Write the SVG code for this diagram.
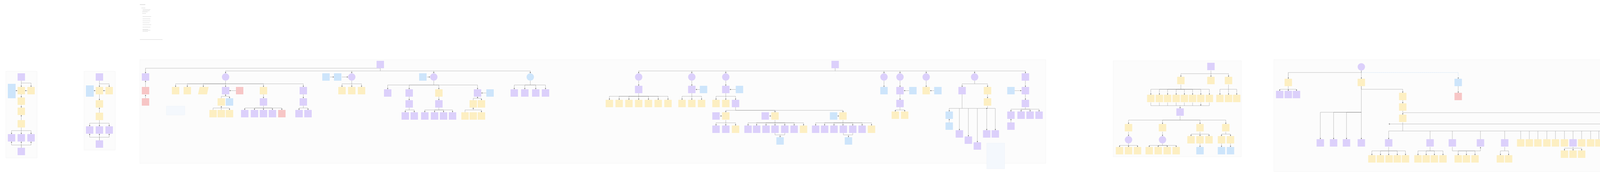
<svg xmlns="http://www.w3.org/2000/svg" width="5000" height="454" viewBox="0 0 5000 454">
<style>
rect.n{width:19px;height:19px}
.p{fill:#dcd0fb}.y{fill:#fdefc2}.b{fill:#cde5fb}.r{fill:#f7c6c6}
.f{fill:#fcfcfc;stroke:#eeeeee;stroke-width:.6}
.g{fill:#effbe9;stroke:#e3f3dc;stroke-width:.6}
.c path{fill:none;stroke:#8f8f8f;stroke-width:.6;marker-end:url(#a)}
.c path.t{stroke-width:1.2;stroke:#bdbdbd}
.c path.d{stroke-dasharray:1.5 1;stroke:#9cc7ee}
.bar{fill:#d6d6d6}
.nt{fill:#f4f8fd;stroke:#e8eef6;stroke-width:.5}
</style>
<defs>
<marker id="a" viewBox="0 0 6 6" refX="6" refY="3" markerWidth="3" markerHeight="3" markerUnits="userSpaceOnUse" orient="auto"><path d="M0,0L6,3L0,6z" fill="#666"/></marker>
</defs>
<rect width="5000" height="454" fill="#ffffff"/>
<g id="notes">
<rect class="bar" x="358" y="11" width="14" height="1.5"/>
<rect class="bar" x="362" y="20" width="10" height="1"/>
<rect class="bar" x="365" y="24" width="20" height="1"/><rect class="bar" x="365" y="27" width="18" height="1"/>
<rect class="bar" x="364" y="30" width="14" height="1" fill="#a8cdf0"/><rect class="bar" x="364" y="34" width="10" height="1" fill="#a8cdf0"/>
<rect class="bar" x="365" y="42" width="22" height="1"/><rect class="bar" x="365" y="48" width="20" height="1"/>
<rect class="bar" x="365" y="53" width="20" height="1"/><rect class="bar" x="365" y="58" width="18" height="1"/>
<rect class="bar" x="365" y="63" width="22" height="1"/><rect class="bar" x="365" y="69" width="20" height="1"/>
<rect class="bar" x="365" y="75" width="14" height="1"/><rect class="bar" x="365" y="77" width="20" height="1"/>
<rect class="bar" x="365" y="80" width="14" height="1"/>
<rect class="bar" x="358" y="101" width="58" height="1"/>
</g>
<g id="frames">
<rect class="f" x="15" y="183" width="80" height="222"/>
<rect class="f" x="215" y="183" width="80" height="202"/>
<rect class="f" x="358" y="153" width="2319" height="266"/>
<rect class="f" x="2850" y="156" width="328" height="246"/>
<rect class="f" x="3261" y="153" width="1340" height="287"/>
<rect class="g" x="4652" y="183" width="57" height="94"/>
<rect class="g" x="4758" y="183" width="86" height="60"/>
<rect class="g" x="4876" y="183" width="31" height="60"/>
<rect x="4955" y="183" width="28" height="60" fill="#fffbee" stroke="#f7eed3" stroke-width=".6"/>
<rect class="nt" x="426" y="272" width="47" height="23"/>
<rect class="nt" x="2526" y="367" width="46" height="66" fill="#fafafa"/>
</g>
<g id="connectors" class="c">
<!-- frame1 -->
<path d="M54.5 207V223"/><path d="M54.5 213H79.5V223"/><path d="M70 232.5H64"/><path d="M45 232.5H40"/>
<path d="M54.5 242V250"/><path d="M54.5 269V276"/><path d="M54.5 308V295"/>
<path d="M54.5 327V335H29.5V344"/><path d="M54.5 335V344"/><path d="M54.5 335H79.5V344"/>
<path d="M54.5 379V372H29.5V363"/><path d="M54.5 379V363"/><path d="M54.5 372H79.5V363"/>
<!-- frame2 -->
<path d="M254.5 207V223"/><path d="M254.5 215H279.5V223"/><path d="M270 232.5H264"/><path d="M245 232.5H240"/>
<path d="M254.5 242V257"/><path d="M254.5 289V276"/>
<path d="M254.5 308V316H229.5V324"/><path d="M254.5 316V324"/><path d="M254.5 316H279.5V324"/>
<path d="M254.5 360V352H229.5V343"/><path d="M254.5 360V343"/><path d="M254.5 352H279.5V343"/>
<!-- main frame left -->
<path class="t" d="M973.5 175H372.5V188"/><path d="M372.5 223V207"/><path d="M372.5 252V243"/>
<path class="t" d="M973.5 175V182H577.5V188"/><path class="t" d="M973.5 182H1357.5V188"/><path d="M900.5 182V188"/><path d="M1110.5 182V188"/>
<path d="M577.5 207V215H449.5V223"/><path d="M577.5 215H479.5V223"/><path d="M577.5 215H520.5V223"/><path d="M577.5 215V223"/><path d="M577.5 215H674.5V223"/><path d="M577.5 215H776.5V223"/>
<path d="M604 232.5H587"/>
<path d="M566.5 252V247H587.5V252"/><path d="M577.5 247V242"/>
<path d="M545.5 282V277H587.5V282"/><path d="M566.5 282V272"/>
<path d="M674.5 242V252"/>
<path d="M674.5 271V277H626.5V282"/><path d="M674.5 277H651.5V282"/><path d="M674.5 277V282"/><path d="M674.5 277H697.5V282"/><path d="M674.5 277H721.5V282"/>
<path d="M776.5 242V252"/><path d="M776.5 271V277H765.5V282"/><path d="M776.5 277H788.5V282"/>
<path d="M845 197.5H855"/><path d="M875 197.5H891"/>
<path d="M900.5 207V215H875.5V223"/><path d="M900.5 215V223"/><path d="M900.5 215H925.5V223"/>
<path d="M1093 197.5H1101"/>
<path d="M1110.5 207V218H992.5V229"/><path d="M1110.5 218H1047.5V229"/><path d="M1110.5 218H1123.5V229"/><path d="M1110.5 218H1222.5V229"/>
<path d="M1245 238.5H1232"/>
<path d="M1047.5 248V257"/><path d="M1047.5 276V282H1037.5V288"/><path d="M1047.5 282H1060.5V288"/>
<path d="M1123.5 248V257"/><path d="M1123.5 276V282H1087.5V288"/><path d="M1123.5 282H1112.5V288"/><path d="M1123.5 282H1135.5V288"/><path d="M1123.5 282H1158.5V288"/>
<path d="M1211.5 257V252H1232.5V257"/><path d="M1222.5 252V248"/>
<path d="M1190.5 288V282H1232.5V288"/><path d="M1211.5 282V276"/>
<path d="M1357.5 207V218H1316.5V229"/><path d="M1357.5 218H1343.5V229"/><path d="M1357.5 218H1371.5V229"/><path d="M1357.5 218H1396.5V229"/>
<!-- root 2 -->
<path class="t" d="M2138 175V182H1635V188"/><path class="t" d="M2138 182H2625V188"/>
<path d="M1771 182V188"/><path d="M1858 182V188"/><path d="M2263 182V188"/><path d="M2304 182V188"/><path d="M2371 182V188"/><path d="M2495 182V188"/>
<path d="M1635 207V220"/><path d="M1771 207V220"/><path d="M1858 207V220"/>
<path d="M1801 229.5H1781"/><path d="M1893 229.5H1868"/>
<path d="M1635 239V247H1560V256"/><path d="M1635 247H1585V256"/><path d="M1635 247H1610V256"/><path d="M1635 247V256"/><path d="M1635 247H1660V256"/><path d="M1635 247H1685V256"/><path d="M1635 247H1710V256"/>
<path d="M1771 239V247H1746V256"/><path d="M1771 247V256"/><path d="M1771 247H1796V256"/>
<path d="M1858 239V247H1833V256"/><path d="M1858 247V256"/><path d="M1858 247H1883V256"/>
<path d="M1883 275V283H1858V288"/><path d="M1883 283H1984V288"/><path d="M1883 283H2158V288"/>
<path d="M1843 297.5H1848"/><path d="M1969 297.5H1974"/><path d="M2144 297.5H2148"/>
<path d="M1858 308V315H1833V322"/><path d="M1858 315V322"/><path d="M1858 315H1883V322"/>
<path d="M1984 308V315H1915V322"/><path d="M1984 315H1937V322"/><path d="M1984 315H1961V322"/><path d="M1984 315V322"/><path d="M1984 315H2009V322"/><path d="M1984 315H2033V322"/><path d="M1984 315H2057V322"/>
<path d="M2158 308V315H2088V322"/><path d="M2158 315H2111V322"/><path d="M2158 315H2135V322"/><path d="M2158 315V322"/><path d="M2158 315H2183V322"/><path d="M2158 315H2207V322"/><path d="M2158 315H2231V322"/>
<path d="M1984 341V346H2009V341M1997 346V352"/><path d="M2159 341V346H2183V341M2172 346V352"/>
<path d="M2263 207V223"/><path d="M2304 207V223"/><path d="M2327.5 232.5H2314"/><path d="M2304 242V256"/>
<path d="M2304 275V282H2292V286"/><path d="M2304 282H2316V286"/>
<path d="M2371 207V223"/><path d="M2391.5 232.5H2381"/>
<path d="M2495 207V215H2463V223"/><path d="M2495 215H2528V223"/><path d="M2528 242V252"/>
<path d="M2463 242V278H2430V286"/><path d="M2528 272V278H2548V334"/><path d="M2463 278H2528"/>
<path d="M2430 314V305"/><path d="M2456 278V334"/><path d="M2479 278V350"/><path d="M2502 278V365"/><path d="M2526 278V334"/>
<path d="M2588 232.5H2615"/><path d="M2625 207V223"/><path d="M2625 242V256"/>
<path d="M2625 275V280H2588V286"/><path d="M2625 280H2614V286"/><path d="M2625 280H2637V286"/><path d="M2625 280H2660V286"/><path d="M2588 314V305"/>
<!-- frame 4 -->
<path d="M3100 181V189H3023V197"/><path d="M3100 189V197"/><path d="M3100 189H3145V197"/>
<path d="M3023 217V229H2946V243"/><path d="M3023 229H2968V243"/><path d="M3023 229H2989V243"/><path d="M3023 229H3011V243"/><path d="M3023 229H3032V243"/><path d="M3023 229H3053V243"/><path d="M3023 229H3074V243"/><path d="M3023 229H3096V243"/>
<path d="M3145 217V229H3123V243"/><path d="M3145 229V243"/><path d="M3145 229H3166V243"/>
<path d="M2946 263V271H3096V263M2968 263V271M2989 263V271M3011 263V271M3032 263V271M3053 263V271M3074 263V271"/><path d="M3021 271V278"/>
<path d="M3021 298V308H2889V318"/><path d="M3021 308H2976V318"/><path d="M3021 308H3072V318"/><path d="M3021 308H3138V318"/>
<path d="M2889 338V349"/><path d="M2976 338V349"/>
<path d="M2889 368V373H2866V377"/><path d="M2889 373V377"/><path d="M2889 373H2912V377"/>
<path d="M2976 368V373H2942V377"/><path d="M2976 373H2965V377"/><path d="M2976 373H2988V377"/><path d="M2976 373H3011V377"/>
<path d="M3072 338V344H3049V349"/><path d="M3072 344V349"/><path d="M3072 344H3095V349"/><path d="M3072 368V377"/>
<path d="M3138 338V344H3127V349"/><path d="M3138 344H3150V349"/><path d="M3127 368V377"/><path d="M3150 368V377"/>
<!-- frame 5 -->
<path class="t" d="M3485 181V186H3298V202"/><path class="d" d="M3485 186H3733V202"/><path d="M3733 221V238"/>
<path d="M3298 221V229H3276V233"/><path d="M3298 229V233"/><path d="M3298 229H3319V233"/>
<path d="M3485 181V202"/>
<path d="M3485 221V229H3591V238"/><path d="M3591 257V265"/>
<path d="M3485 221V288H3380V357"/><path d="M3485 288H3414V357"/><path d="M3485 288H3447V357"/><path d="M3485 288V357"/>
<path d="M3591 284V294"/><path class="t" d="M3591 289H4547V295"/><path d="M4196 289V294"/><path d="M4292 289V294"/><path d="M4401 289V294"/>
<path d="M4196 314V318H3555"/>
<path d="M3591 314V336H3555V357"/>
<path d="M3591 336H4136V357M3661 336V357M3718 336V357M3790 336V357M3852 336V357M3893 336V357M3915 336V357M3937 336V357M3960 336V357M3982 336V357M4005 336V357M4027 336V357M4049 336V357M4072 336V357M4093 336V357M4115 336V357"/>
<path d="M3555 377V387H3512V398"/><path d="M3555 387H3534V398"/><path d="M3555 387V398"/><path d="M3555 387H3577V398"/><path d="M3555 387H3598V398"/>
<path d="M3661 377V387H3630V398"/><path d="M3661 387H3651V398"/><path d="M3661 387H3672V398"/><path d="M3661 387H3694V398"/>
<path d="M3718 377V387H3790V377"/><path d="M3754 387H3733V398"/><path d="M3754 387V398"/><path d="M3754 387H3776V398"/>
<path d="M3852 377V387H3841V398"/><path d="M3852 387H3862V398"/>
<path d="M4027 377V380H4005V386"/><path d="M4027 380V386"/><path d="M4027 380H4049V386"/>
<path d="M4196 314V336H4174V357"/><path d="M4196 336V357"/><path d="M4196 336H4218V357"/><path d="M4218 377V388"/>
<path d="M4292 314V336H4257V357"/><path d="M4292 336H4280V357"/><path d="M4292 336H4302V357"/><path d="M4292 336H4326V357"/><path d="M4302 377V388"/>
<path d="M4401 314V336H4372V357"/><path d="M4401 336H4396V357"/><path d="M4401 336H4419V357"/><path d="M4401 336H4442V357"/><path d="M4401 336H4463V357"/><path d="M4401 336H4487V357"/>
<path d="M4396 377V388"/><path d="M4419 377V382H4487V377M4442 377V382M4463 377V382"/><path d="M4453 382V388"/><path d="M4453 407V414"/>
<path d="M4547 314V323"/><path d="M4547 342V351H4524V360"/><path d="M4547 351V360"/><path d="M4547 351H4570V360"/><path d="M4524 379V388"/>
<!-- green frames -->
<path d="M4680 209V218"/><path d="M4680 238V244H4677.5V252"/><path d="M4680 244H4704.5V252"/>
<path d="M4800 209V213H4774V218"/><path d="M4800 213V218"/><path d="M4800 213H4829V218"/>
<path d="M4891 209V218"/><path d="M4970 209V218"/>
</g>
<g id="nodes">
<g id="f1">
<rect class="n p" x="45" y="188"/><rect class="b" x="20" y="215" width="20" height="37"/>
<rect class="n y" x="45" y="223"/><rect class="n y" x="70" y="223"/>
<rect class="n y" x="45" y="250"/><rect class="n y" x="45" y="276"/><rect class="n y" x="45" y="308"/>
<rect class="n p" x="20" y="344"/><rect class="n p" x="45" y="344"/><rect class="n p" x="70" y="344"/>
<rect class="n p" x="45" y="379"/>
</g>
<g id="f2">
<rect class="n p" x="245" y="188"/><rect class="b" x="220" y="219" width="20" height="29"/>
<rect class="n y" x="245" y="223"/><rect class="n y" x="270" y="223"/>
<rect class="n y" x="245" y="257"/><rect class="n y" x="245" y="289"/>
<rect class="n p" x="220" y="324"/><rect class="n p" x="245" y="324"/><rect class="n p" x="270" y="324"/>
<rect class="n p" x="245" y="360"/>
</g>
<g id="f3a">
<rect class="n p" x="363" y="188"/><rect class="n r" x="363" y="223"/><rect class="n r" x="363" y="252"/>
<rect class="n p" x="964" y="156"/>
<circle class="p" cx="577.5" cy="197.5" r="9.5"/>
<rect class="n y" x="440" y="223"/><rect class="n y" x="470" y="223"/>
<polygon class="y" points="511,223 534,223 530,242 507,242"/>
<rect class="n p" x="568" y="223"/><rect class="n r" x="604" y="223"/><rect class="n y" x="665" y="223"/><rect class="n p" x="767" y="223"/>
<rect class="n y" x="557" y="252"/><rect class="n b" x="578" y="252"/>
<rect class="n y" x="536" y="282"/><rect class="n y" x="557" y="282"/><rect class="n y" x="578" y="282"/>
<rect class="n p" x="665" y="252"/>
<rect class="n p" x="617" y="282"/><rect class="n p" x="642" y="282"/><rect class="n p" x="665" y="282"/><rect class="n p" x="688" y="282"/><rect class="n r" x="712" y="282"/>
<rect class="n p" x="767" y="252"/><rect class="n p" x="756" y="282"/><rect class="n p" x="779" y="282"/>
<rect class="n b" x="825" y="188"/><rect class="n b" x="855" y="188"/><circle class="p" cx="900.5" cy="197.5" r="9.5"/>
<rect class="n y" x="866" y="223"/><rect class="n y" x="891" y="223"/><rect class="n y" x="916" y="223"/>
<rect class="n b" x="1073" y="188"/><circle class="p" cx="1110.5" cy="197.5" r="9.5"/>
<rect class="n p" x="983" y="229"/><rect class="n p" x="1038" y="229"/><rect class="n y" x="1114" y="229"/><rect class="n p" x="1213" y="229"/><rect class="n b" x="1245" y="229"/>
<rect class="n p" x="1038" y="257"/><rect class="n p" x="1028" y="288"/><rect class="n p" x="1051" y="288"/>
<rect class="n p" x="1114" y="257"/><rect class="n p" x="1078" y="288"/><rect class="n p" x="1103" y="288"/><rect class="n p" x="1126" y="288"/><rect class="n p" x="1149" y="288"/>
<rect class="n y" x="1202" y="257"/><rect class="n y" x="1223" y="257"/>
<rect class="n y" x="1181" y="288"/><rect class="n y" x="1202" y="288"/><rect class="n y" x="1223" y="288"/>
<circle class="b" cx="1357.5" cy="197.5" r="9.5"/>
<rect class="n p" x="1307" y="229"/><rect class="n p" x="1334" y="229"/><rect class="n p" x="1362" y="229"/><rect class="n p" x="1387" y="229"/>
</g>
<g id="f3b">
<rect class="n p" x="2128.5" y="156"/>
<circle class="p" cx="1635" cy="197.5" r="9.5"/><circle class="p" cx="1771" cy="197.5" r="9.5"/><circle class="p" cx="1858" cy="197.5" r="9.5"/>
<circle class="p" cx="2263" cy="197.5" r="9.5"/><circle class="p" cx="2304" cy="197.5" r="9.5"/><circle class="p" cx="2371" cy="197.5" r="9.5"/><circle class="p" cx="2495" cy="197.5" r="9.5"/>
<rect class="n p" x="2615.5" y="188"/>
<rect class="n p" x="1625.5" y="220"/><rect class="n p" x="1761.5" y="220"/><rect class="n b" x="1791.5" y="220"/><rect class="n p" x="1848.5" y="220"/><rect class="n b" x="1883.5" y="220"/>
<rect class="n y" x="1550.5" y="256"/><rect class="n y" x="1575.5" y="256"/><rect class="n y" x="1600.5" y="256"/><rect class="n y" x="1625.5" y="256"/><rect class="n y" x="1650.5" y="256"/><rect class="n y" x="1675.5" y="256"/><rect class="n y" x="1700.5" y="256"/>
<rect class="n y" x="1736.5" y="256"/><rect class="n y" x="1761.5" y="256"/><rect class="n y" x="1786.5" y="256"/>
<rect class="n y" x="1823.5" y="256"/><rect class="n y" x="1848.5" y="256"/><rect class="n p" x="1873.5" y="256"/>
<rect class="n p" x="1823.5" y="288"/><rect class="n y" x="1848.5" y="288"/>
<rect class="n p" x="1949.5" y="288"/><rect class="n y" x="1974.5" y="288"/>
<rect class="n b" x="2124.5" y="288"/><rect class="n y" x="2148.5" y="288"/>
<rect class="n p" x="1823.5" y="322"/><rect class="n p" x="1848.5" y="322"/><rect class="n y" x="1873.5" y="322"/>
<rect class="n p" x="1905.5" y="322"/><rect class="n p" x="1927.5" y="322"/><rect class="n p" x="1951.5" y="322"/><rect class="n p" x="1974.5" y="322"/><rect class="n p" x="1999.5" y="322"/><rect class="n p" x="2023.5" y="322"/><rect class="n y" x="2047.5" y="322"/>
<rect class="n p" x="2078.5" y="322"/><rect class="n p" x="2101.5" y="322"/><rect class="n p" x="2125.5" y="322"/><rect class="n p" x="2149.5" y="322"/><rect class="n p" x="2173.5" y="322"/><rect class="n p" x="2197.5" y="322"/><rect class="n y" x="2221.5" y="322"/>
<rect class="n b" x="1987.5" y="352"/><rect class="n b" x="2162.5" y="352"/>
<rect class="n b" x="2253.5" y="223"/><rect class="n p" x="2294.5" y="223"/><rect class="n b" x="2327.5" y="223"/>
<rect class="n p" x="2294.5" y="256"/><rect class="n y" x="2282.5" y="286"/><rect class="n y" x="2306.5" y="286"/>
<rect class="n y" x="2361.5" y="223"/><rect class="n b" x="2391.5" y="223"/>
<rect class="n p" x="2453.5" y="223"/><rect class="n y" x="2518.5" y="223"/><rect class="n y" x="2518.5" y="252"/>
<rect class="n b" x="2420.5" y="286"/><rect class="n b" x="2420.5" y="314"/>
<rect class="n p" x="2446.5" y="334"/><rect class="n p" x="2469.5" y="350"/><rect class="n p" x="2492.5" y="365"/><rect class="n p" x="2516.5" y="334"/><rect class="n p" x="2538.5" y="334"/>
<rect class="n b" x="2578.5" y="223"/><rect class="n p" x="2615.5" y="223"/><rect class="n p" x="2615.5" y="256"/>
<rect class="n p" x="2578.5" y="286"/><rect class="n p" x="2604.5" y="286"/><rect class="n p" x="2627.5" y="286"/><rect class="n p" x="2650.5" y="286"/>
<rect class="n p" x="2578.5" y="314"/>
</g>
<g id="f4">
<rect class="n p" x="3090.5" y="161"/>
<rect class="n y" x="3013.5" y="197"/><rect class="n y" x="3090.5" y="197"/><rect class="n y" x="3135.5" y="197"/>
<rect class="n y" x="2936.5" y="243"/><rect class="n y" x="2958.5" y="243"/><rect class="n y" x="2979.5" y="243"/><rect class="n y" x="3001.5" y="243"/><rect class="n y" x="3022.5" y="243"/><rect class="n y" x="3043.5" y="243"/><rect class="n y" x="3064.5" y="243"/><rect class="n y" x="3086.5" y="243"/>
<rect class="n y" x="3113.5" y="243"/><rect class="n y" x="3135.5" y="243"/><rect class="n y" x="3156.5" y="243"/>
<rect class="n p" x="3011.5" y="278"/>
<rect class="n y" x="2879.5" y="318"/><rect class="n y" x="2966.5" y="318"/><rect class="n y" x="3062.5" y="318"/><rect class="n y" x="3128.5" y="318"/>
<circle class="p" cx="2889" cy="358.5" r="9.5"/><circle class="p" cx="2976" cy="358.5" r="9.5"/>
<rect class="n y" x="3039.5" y="349"/><rect class="n y" x="3062.5" y="349"/><rect class="n y" x="3085.5" y="349"/>
<rect class="n y" x="3117.5" y="349"/><rect class="n y" x="3140.5" y="349"/>
<rect class="n y" x="2856.5" y="377"/><rect class="n y" x="2879.5" y="377"/><rect class="n y" x="2902.5" y="377"/>
<rect class="n y" x="2932.5" y="377"/><rect class="n y" x="2955.5" y="377"/><rect class="n y" x="2978.5" y="377"/><rect class="n y" x="3001.5" y="377"/>
<rect class="n b" x="3062.5" y="377"/><rect class="n b" x="3117.5" y="377"/><rect class="n b" x="3140.5" y="377"/>
</g>
<g id="f5">
<rect class="n y" x="3288.5" y="202"/>
<rect class="n p" x="3266.5" y="233"/><rect class="n p" x="3288.5" y="233"/><rect class="n p" x="3309.5" y="233"/>
<circle class="p" cx="3485" cy="171.5" r="9.5"/>
<rect class="n y" x="3475.5" y="202"/><rect class="n b" x="3723.5" y="202"/><rect class="n r" x="3723.5" y="238"/>
<rect class="n y" x="3581.5" y="238"/><rect class="n y" x="3581.5" y="265"/><rect class="n y" x="3581.5" y="294"/>
<rect class="n p" x="3370.5" y="357"/><rect class="n p" x="3404.5" y="357"/><rect class="n p" x="3437.5" y="357"/><rect class="n p" x="3475.5" y="357"/>
<rect class="n p" x="3545.5" y="357"/><rect class="n p" x="3651.5" y="357"/><rect class="n p" x="3708.5" y="357"/><rect class="n p" x="3780.5" y="357"/><rect class="n p" x="3842.5" y="357"/>
<rect class="n y" x="3883.5" y="357"/><rect class="n y" x="3905.5" y="357"/><rect class="n y" x="3927.5" y="357"/><rect class="n y" x="3950.5" y="357"/><rect class="n y" x="3972.5" y="357"/><rect class="n y" x="3995.5" y="357"/>
<rect class="n p" x="4017.5" y="357"/><rect class="n y" x="4039.5" y="357"/><rect class="n y" x="4062.5" y="357"/><rect class="n y" x="4083.5" y="357"/><rect class="n y" x="4105.5" y="357"/><rect class="n y" x="4126.5" y="357"/>
<rect class="n y" x="3502.5" y="398"/><rect class="n y" x="3524.5" y="398"/><rect class="n y" x="3546.5" y="398"/><rect class="n y" x="3567.5" y="398"/><rect class="n y" x="3588.5" y="398"/>
<rect class="n y" x="3620.5" y="398"/><rect class="n y" x="3641.5" y="398"/><rect class="n y" x="3662.5" y="398"/><rect class="n y" x="3684.5" y="398"/>
<rect class="n y" x="3723.5" y="398"/><rect class="n y" x="3744.5" y="398"/><rect class="n y" x="3766.5" y="398"/>
<rect class="n y" x="3831.5" y="398"/><rect class="n y" x="3852.5" y="398"/>
<rect class="n y" x="3995.5" y="386"/><rect class="n y" x="4017.5" y="386"/><rect class="n y" x="4039.5" y="386"/>
<rect class="n y" x="4186.5" y="294"/><rect class="n y" x="4164.5" y="357"/><rect class="n y" x="4186.5" y="357"/><rect class="n y" x="4208.5" y="357"/><rect class="n y" x="4208.5" y="388"/>
<rect class="n y" x="4282.5" y="294"/><rect class="n y" x="4247.5" y="357"/><rect class="n y" x="4270.5" y="357"/><rect class="n y" x="4292.5" y="357"/><rect class="n y" x="4316.5" y="357"/><rect class="n b" x="4292.5" y="388"/>
<rect class="n y" x="4391.5" y="294"/>
<rect class="n y" x="4362.5" y="357"/><rect class="n y" x="4386.5" y="357"/><rect class="n y" x="4409.5" y="357"/><rect class="n y" x="4432.5" y="357"/><rect class="n y" x="4453.5" y="357"/><rect class="n y" x="4477.5" y="357"/>
<rect class="n b" x="4386.5" y="388"/><rect class="n b" x="4443.5" y="388"/><rect class="n b" x="4443.5" y="414"/>
<rect class="n y" x="4537.5" y="295"/><rect class="n y" x="4537.5" y="323"/>
<rect class="n y" x="4514.5" y="360"/><rect class="n y" x="4537.5" y="360"/><rect class="n y" x="4560.5" y="360"/><rect class="n r" x="4514.5" y="388"/>
</g>
<g id="f6">
<circle class="p" cx="4680" cy="199.5" r="9.5"/><rect class="n y" x="4670.5" y="218"/>
<rect class="n p" x="4658" y="252"/><rect class="n p" x="4695" y="252"/>
<rect class="n p" x="4790.5" y="190"/><rect class="n y" x="4764.5" y="218"/><rect class="n y" x="4790.5" y="218"/><rect class="n y" x="4819.5" y="218"/>
<rect class="n p" x="4881.5" y="190"/><rect class="n y" x="4881.5" y="218"/>
<rect class="n p" x="4960.5" y="190"/><rect class="n y" x="4960.5" y="218"/>
</g>
</g>
</svg>
